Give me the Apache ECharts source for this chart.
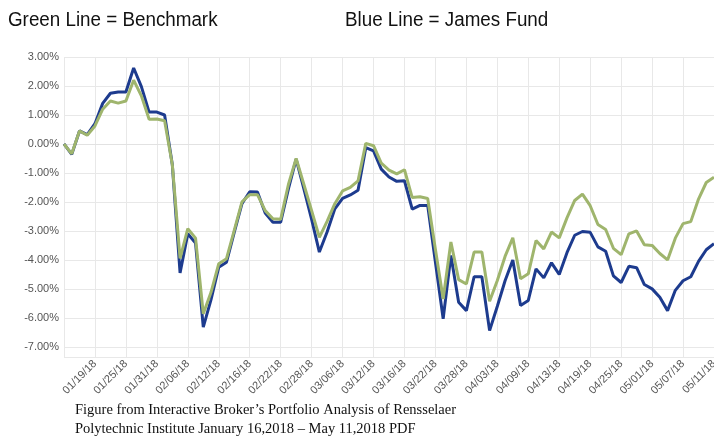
<!DOCTYPE html>
<html>
<head>
<meta charset="utf-8">
<script src="https://cdn.jsdelivr.net/npm/echarts@6/dist/echarts.min.js"></script>
<style>
html, body { margin: 0; padding: 0; background: #fff; }
#main { width: 714px; height: 447px; }
</style>
</head>
<body>
<div id="main"></div>
<script>
// trading days (weekdays) Jan 15 - May 11 2018
var dates = [
    '01/15/18','01/16/18','01/17/18','01/18/18','01/19/18','01/22/18','01/23/18','01/24/18','01/25/18','01/26/18',
    '01/29/18','01/30/18','01/31/18','02/01/18','02/02/18','02/05/18','02/06/18','02/07/18','02/08/18','02/09/18',
    '02/12/18','02/13/18','02/14/18','02/15/18','02/16/18','02/19/18','02/20/18','02/21/18','02/22/18','02/23/18',
    '02/26/18','02/27/18','02/28/18','03/01/18','03/02/18','03/05/18','03/06/18','03/07/18','03/08/18','03/09/18',
    '03/12/18','03/13/18','03/14/18','03/15/18','03/16/18','03/19/18','03/20/18','03/21/18','03/22/18','03/23/18',
    '03/26/18','03/27/18','03/28/18','03/29/18','03/30/18','04/02/18','04/03/18','04/04/18','04/05/18','04/06/18',
    '04/09/18','04/10/18','04/11/18','04/12/18','04/13/18','04/16/18','04/17/18','04/18/18','04/19/18','04/20/18',
    '04/23/18','04/24/18','04/25/18','04/26/18','04/27/18','04/30/18','05/01/18','05/02/18','05/03/18','05/04/18',
    '05/07/18','05/08/18','05/09/18','05/10/18','05/11/18'
];

// Blue line = James Fund (cumulative return, %)
var fund = [
    0.00,-0.36,0.45,0.32,0.70,1.40,1.75,1.79,1.79,2.62,
    1.98,1.10,1.10,1.00,-0.72,-4.45,-3.10,-3.42,-6.32,-5.37,
    -4.25,-4.08,-3.05,-2.06,-1.65,-1.66,-2.38,-2.70,-2.70,-1.55,
    -0.52,-1.55,-2.60,-3.73,-3.04,-2.24,-1.88,-1.76,-1.60,-0.13,
    -0.24,-0.87,-1.14,-1.29,-1.27,-2.25,-2.12,-2.12,-4.08,-6.03,
    -3.85,-5.46,-5.75,-4.58,-4.58,-6.44,-5.60,-4.72,-4.00,-5.57,
    -5.40,-4.31,-4.62,-4.10,-4.50,-3.75,-3.15,-3.02,-3.05,-3.55,
    -3.70,-4.55,-4.78,-4.22,-4.27,-4.85,-5.00,-5.29,-5.75,-5.05,
    -4.72,-4.58,-4.05,-3.65,-3.44
];

// Green line = Benchmark (cumulative return, %)
var benchmark = [
    0.00,-0.34,0.45,0.30,0.62,1.20,1.48,1.41,1.48,2.20,
    1.66,0.85,0.86,0.80,-0.72,-3.95,-2.92,-3.25,-5.86,-5.12,
    -4.13,-3.96,-2.98,-2.00,-1.75,-1.75,-2.30,-2.58,-2.60,-1.40,
    -0.50,-1.40,-2.30,-3.22,-2.67,-2.06,-1.62,-1.50,-1.27,0.02,
    -0.06,-0.66,-0.90,-1.03,-0.89,-1.85,-1.82,-1.88,-3.64,-5.35,
    -3.38,-4.68,-4.83,-3.73,-3.73,-5.43,-4.71,-3.88,-3.24,-4.65,
    -4.48,-3.33,-3.62,-3.04,-3.24,-2.55,-1.95,-1.73,-2.13,-2.78,
    -2.95,-3.60,-3.82,-3.10,-3.00,-3.48,-3.50,-3.78,-4.00,-3.25,
    -2.75,-2.68,-1.90,-1.33,-1.15
];

var headings = ['Green Line = Benchmark', 'Blue Line = James Fund'];

var captionLines = [
    'Figure from Interactive Broker\u2019s Portfolio Analysis of Rensselaer',
    'Polytechnic Institute January 16,2018 \u2013 May 11,2018 PDF'
];

var myChart = echarts.init(document.getElementById('main'));

var headFont = '20px "Liberation Sans", sans-serif';

myChart.setOption({
    animation: false,
    backgroundColor: '#fff',
    graphic: [
        {
            type: 'text', x: 8, y: 10, scaleX: 0.94,
            style: { text: headings[0], font: headFont, fill: '#111' }
        },
        {
            type: 'text', x: 345, y: 10, scaleX: 0.94,
            style: { text: headings[1], font: headFont, fill: '#111' }
        },
        {
            type: 'text', x: 75, y: 401,
            style: {
                text: captionLines.join('\n'),
                font: '14.5px "Liberation Serif", serif',
                fill: '#111',
                lineHeight: 19
            }
        }
    ],
    grid: {
        left: 64,
        right: 0,
        top: 57,
        bottom: 90,
        containLabel: false,
        outerBoundsMode: 'none'
    },
    xAxis: {
        type: 'category',
        data: dates,
        boundaryGap: false,
        axisLine: { show: true, lineStyle: { color: '#e2e2e2', width: 1 } },
        axisTick: { show: false },
        axisLabel: {
            interval: function (i) { return i > 0 && i % 4 === 0; },
            rotate: 45,
            margin: 5,
            color: '#555',
            fontSize: 11,
            fontFamily: '"Liberation Sans", sans-serif'
        },
        splitLine: {
            show: true,
            interval: function (i) { return i % 4 === 0; },
            lineStyle: { color: '#e8e8e8', width: 1 }
        }
    },
    yAxis: {
        type: 'value',
        min: -7.35,
        max: 3,
        minInterval: 1,
        maxInterval: 1,
        axisLine: { show: false },
        axisTick: { show: false },
        axisLabel: {
            margin: 5,
            color: '#555',
            fontSize: 11,
            fontFamily: '"Liberation Sans", sans-serif',
            formatter: function (v) {
                if (Math.abs(v - Math.round(v)) > 0.01) return '';
                return Math.round(v).toFixed(2) + '%';
            }
        },
        splitLine: { lineStyle: { color: '#e8e8e8', width: 1 } }
    },
    series: [
        {
            name: 'James Fund',
            type: 'line',
            data: fund,
            showSymbol: false,
            lineStyle: { color: '#1d3b8e', width: 3 },
            itemStyle: { color: '#1d3b8e' }
        },
        {
            name: 'Benchmark',
            type: 'line',
            data: benchmark,
            showSymbol: false,
            lineStyle: { color: '#9fb56d', width: 3 },
            itemStyle: { color: '#9fb56d' }
        }
    ]
});
</script>
</body>
</html>
